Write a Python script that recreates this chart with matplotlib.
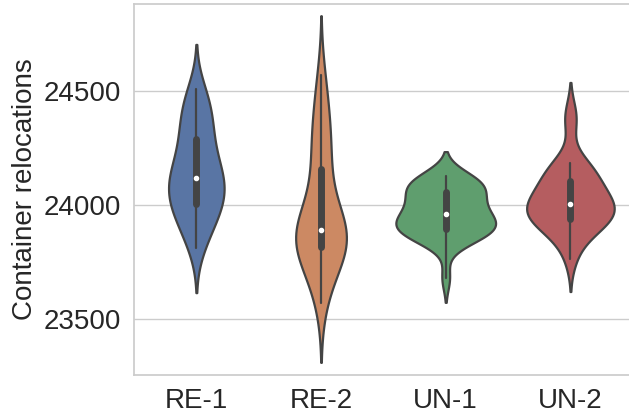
import numpy as np
import pandas as pd
import seaborn as sns
import matplotlib.pyplot as plt

# Container relocations per run
re_1 = [23810, 23855, 23890, 23920, 23948, 23970, 23988, 24002, 24018, 24034,
        24050, 24066, 24082, 24098, 24113, 24127, 24145, 24163, 24182, 24202,
        24235, 24275, 24295, 24325, 24355, 24385, 24415, 24445, 24478, 24510]
re_2 = [23570, 23640, 23690, 23730, 23760, 23785, 23805, 23815, 23825, 23838,
        23850, 23862, 23872, 23880, 23886, 23894, 23905, 23930, 23965, 24005,
        24050, 24110, 24175, 24215, 24260, 24305, 24355, 24410, 24480, 24570]
un_1 = [23680, 23830, 23848, 23860, 23869, 23877, 23885, 23893, 23901, 23909,
        23917, 23925, 23933, 23942, 23952, 23965, 23978, 23992, 24006, 24020,
        24034, 24048, 24060, 24072, 24083, 24094, 24104, 24113, 24120, 24127]
un_2 = [23763, 23830, 23870, 23895, 23910, 23922, 23932, 23938, 23942, 23955,
        23965, 23975, 23985, 23995, 24000, 24008, 24018, 24030, 24045, 24060,
        24080, 24095, 24110, 24135, 24150, 24165, 24175, 24184, 24370, 24395]

labels = ['RE-1', 'RE-2', 'UN-1', 'UN-2']
samples = [re_1, re_2, un_1, un_2]

data = pd.DataFrame({
    'method': np.repeat(labels, [len(s) for s in samples]),
    'relocations': np.concatenate(samples),
})

sns.set_theme(style='whitegrid')
plt.rcParams['font.family'] = ['Liberation Sans', 'DejaVu Sans']

fig = plt.figure(figsize=(6.29, 4.17), dpi=100)
ax = fig.add_axes([0.213, 0.1007, 0.793, 0.8897])

sns.violinplot(data=data, x='method', y='relocations', hue='method',
               palette='deep', legend=False, linecolor='#444444',
               linewidth=1.6, common_norm=True,
               inner_kws=dict(box_width=5, whis_width=1.6, marker='o',
                              markersize=3),
               ax=ax)

ax.set_xlabel('')
ax.set_ylabel('Container relocations', fontsize=20)
ax.set_yticks([23500, 24000, 24500])
ax.set_ylim(23254, 24882)
ax.set_xlim(-0.5, 3.5)
ax.tick_params(labelsize=20)

fig.savefig('out.png', dpi=100)
